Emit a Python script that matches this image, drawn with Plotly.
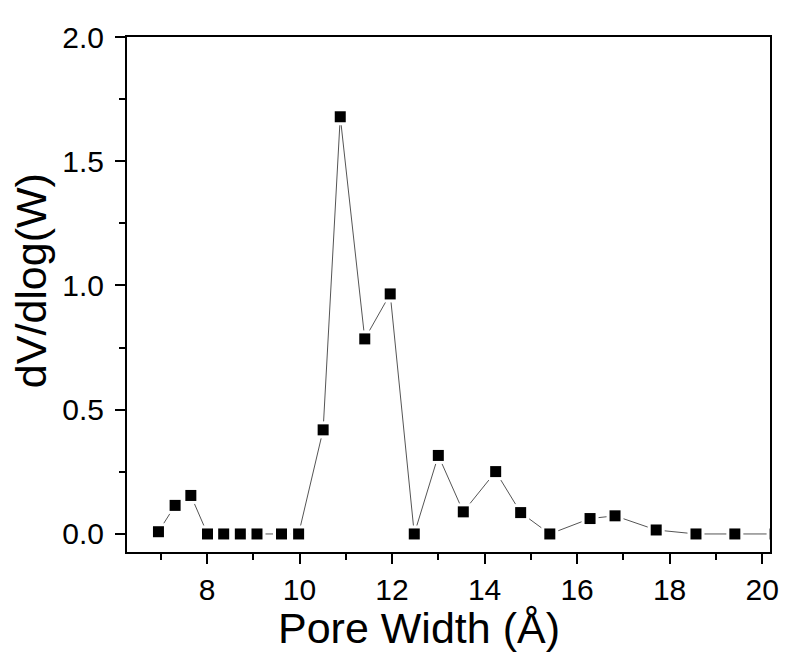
import plotly.graph_objects as go

pore_width = [6.95, 7.31, 7.65, 8.01, 8.36, 8.72, 9.08, 9.61, 9.98, 10.51, 10.88, 11.41,
              11.96, 12.48, 13.00, 13.54, 14.24, 14.78, 15.41, 16.28, 16.82, 17.71,
              18.57, 19.41, 20.28]
dv_dlogw = [0.009, 0.115, 0.155, 0.0, 0.0, 0.0, 0.0, 0.0, 0.0, 0.419, 1.679, 0.785,
            0.966, 0.0, 0.316, 0.089, 0.251, 0.086, 0.0, 0.062, 0.073, 0.016,
            0.0, 0.0, 0.0]

x_ticks = [8, 10, 12, 14, 16, 18, 20]
y_ticks = [0.0, 0.5, 1.0, 1.5, 2.0]
y_tick_text = ["0.0", "0.5", "1.0", "1.5", "2.0"]
x_title = "Pore Width (Å)"
y_title = "dV/dlog(W)"

fig = go.Figure()
fig.add_trace(go.Scatter(x=pore_width, y=dv_dlogw, mode="lines",
                         line=dict(color="#555555", width=1), showlegend=False,
                         hoverinfo="skip"))
fig.add_trace(go.Scatter(x=pore_width, y=dv_dlogw, mode="markers",
                         marker=dict(symbol="square", size=17, color="white",
                                     line=dict(width=0)),
                         showlegend=False, hoverinfo="skip"))
fig.add_trace(go.Scatter(x=pore_width, y=dv_dlogw, mode="markers",
                         marker=dict(symbol="square", size=11, color="black",
                                     line=dict(width=0)),
                         showlegend=False))

font_family = "Liberation Sans, Arial, sans-serif"
fig.update_layout(
    width=783, height=645,
    margin=dict(l=119, r=15, t=22, b=101),
    paper_bgcolor="white", plot_bgcolor="white",
    font=dict(family=font_family, color="black"),
    annotations=[
        dict(text=x_title, xref="paper", yref="paper", x=0.4545, y=-0.1468,
             xanchor="center", yanchor="middle", showarrow=False,
             font=dict(size=43, family=font_family, color="black")),
        dict(text=y_title, xref="paper", yref="paper", x=-0.150, y=0.527,
             xanchor="center", yanchor="middle", showarrow=False, textangle=-90,
             borderpad=0,
             font=dict(size=43, family=font_family, color="black")),
    ],
)
fig.update_xaxes(
    range=[6.27, 20.17], tickvals=x_ticks, ticktext=[str(v) for v in x_ticks],
    ticks="outside", ticklen=10, tickwidth=1.5, tickcolor="black",
    minor=dict(dtick=1, ticks="outside", ticklen=6, tickwidth=1.5, tickcolor="black"),
    showline=True, linecolor="black", linewidth=2, mirror=True,
    showgrid=False, zeroline=False,
    tickfont=dict(size=30, family=font_family, color="black"),
)
fig.update_yaxes(
    range=[-0.0726, 2.0], tickvals=y_ticks, ticktext=y_tick_text,
    ticks="outside", ticklen=10, tickwidth=1.5, tickcolor="black",
    minor=dict(dtick=0.25, ticks="outside", ticklen=6, tickwidth=1.5, tickcolor="black"),
    showline=True, linecolor="black", linewidth=2, mirror=True,
    showgrid=False, zeroline=False, ticklabelstandoff=5,
    tickfont=dict(size=30, family=font_family, color="black"),
)

fig.write_html("out.html")
